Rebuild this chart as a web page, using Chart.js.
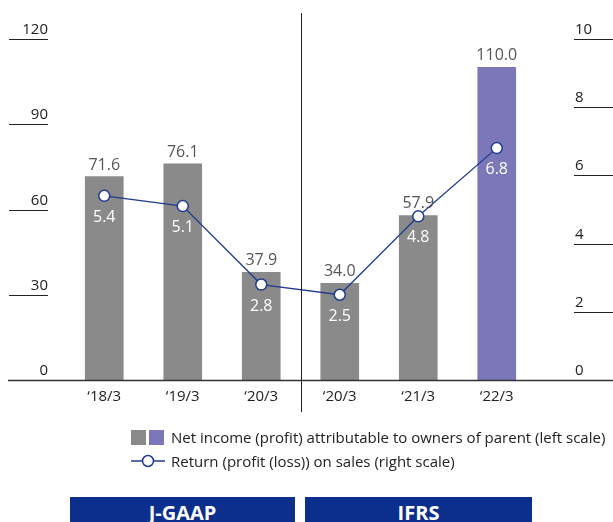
<!DOCTYPE html>
<html>
<head>
<meta charset="utf-8">
<script src="https://cdn.jsdelivr.net/npm/chart.js@4"></script>
<style>
  body { margin: 0; background: #fff; font-family: "Open Sans", "Noto Sans", sans-serif; }
  #wrap { position: relative; width: 613px; height: 522px; overflow: hidden; }
  canvas { position: absolute; left: 0; top: 0; }
  .leg { position: absolute; left: 131px; font-size: 15px; color: #222; white-space: nowrap; display: flex; align-items: center; }
  .sq { display: inline-block; width: 15px; height: 15px; margin-right: 3px; }
  .box { position: absolute; top: 497px; height: 30px; background: #0c2e8c; color: #fff; font-weight: bold; font-size: 20px; text-align: center; line-height: 32px; }
</style>
</head>
<body>
<div id="wrap">
  <canvas id="chart" width="613" height="522"></canvas>
  <div class="leg" style="top:427px">
    <span class="sq" style="background:#8a8a8a"></span><span class="sq" style="background:#7b77b8;margin-right:7px"></span>
    Net income (profit) attributable to owners of parent (left scale)
  </div>
  <div class="leg" style="top:451px">
    <svg width="36" height="16" style="margin-right:4px"><line x1="0" y1="8" x2="34" y2="8" stroke="#1f3a8f" stroke-width="1.3"/><circle cx="17" cy="8" r="5.5" fill="#fff" stroke="#1f3a8f" stroke-width="1.5"/></svg>
    Return (profit (loss)) on sales (right scale)
  </div>
  <div class="box" style="left:70px;width:225px">J-GAAP</div>
  <div class="box" style="left:305px;width:227px">IFRS</div>
</div>
<script>
  const categories = ['\u201818/3', '\u201819/3', '\u201820/3', '\u201820/3', '\u201821/3', '\u201822/3'];
  const netIncome = [71.6, 76.1, 37.9, 34.0, 57.9, 110.0];
  const returnOnSales = [5.4, 5.1, 2.8, 2.5, 4.8, 6.8];
  const leftTicks = [0, 30, 60, 90, 120];
  const rightTicks = [0, 2, 4, 6, 8, 10];
  const barColors = ['#8a8a8a', '#8a8a8a', '#8a8a8a', '#8a8a8a', '#8a8a8a', '#7b77b8'];

  const FONT = '"Open Sans", "Noto Sans", sans-serif';

  const extras = {
    id: 'extras',
    afterDraw(chart) {
      const ctx = chart.ctx;
      const yL = chart.scales.y;
      const yR = chart.scales.y2;
      const x = chart.scales.x;
      ctx.save();

      // tick labels sitting on short underlines
      ctx.font = '15px ' + FONT;
      ctx.fillStyle = '#222';
      ctx.strokeStyle = '#222';
      ctx.lineWidth = 1.2;
      ctx.textBaseline = 'alphabetic';
      leftTicks.forEach(v => {
        const py = Math.round(yL.getPixelForValue(v)) + 0.5;
        if (v !== 0) {
          ctx.beginPath(); ctx.moveTo(9, py); ctx.lineTo(48, py); ctx.stroke();
        }
        ctx.textAlign = 'right';
        ctx.fillText(String(v), 48, py - 6);
      });
      rightTicks.forEach(v => {
        const py = Math.round(yR.getPixelForValue(v)) + 0.5;
        if (v !== 0) {
          ctx.beginPath(); ctx.moveTo(574, py); ctx.lineTo(613, py); ctx.stroke();
        }
        ctx.textAlign = 'left';
        ctx.fillText(String(v), 575, py - 6);
      });

      // baseline
      const by = Math.round(yL.getPixelForValue(0)) + 0.5;
      ctx.lineWidth = 1.4;
      ctx.strokeStyle = '#333';
      ctx.beginPath(); ctx.moveTo(8, by); ctx.lineTo(613, by); ctx.stroke();

      // J-GAAP / IFRS divider
      const dx = Math.round((x.getPixelForValue(2) + x.getPixelForValue(3)) / 2) + 0.5;
      ctx.lineWidth = 1;
      ctx.strokeStyle = '#222';
      ctx.beginPath(); ctx.moveTo(dx, 13); ctx.lineTo(dx, 412); ctx.stroke();

      // bar value labels
      ctx.font = '16px ' + FONT;
      ctx.textAlign = 'center';
      ctx.fillStyle = '#555';
      chart.getDatasetMeta(1).data.forEach((bar, i) => {
        ctx.fillText(netIncome[i].toFixed(1), bar.x, bar.y - 7);
      });
      // point labels
      ctx.fillStyle = '#fff';
      chart.getDatasetMeta(0).data.forEach((pt, i) => {
        ctx.fillText(returnOnSales[i].toFixed(1), pt.x, pt.y + 26);
      });
      ctx.restore();
    }
  };

  new Chart(document.getElementById('chart'), {
    data: {
      labels: categories,
      datasets: [{
        type: 'line',
        data: returnOnSales,
        yAxisID: 'y2',
        borderColor: '#1f3a8f',
        borderWidth: 1.3,
        pointRadius: 5.5,
        pointBorderWidth: 1.5,
        pointBackgroundColor: '#fff',
        pointBorderColor: '#1f3a8f',
        order: 0
      }, {
        type: 'bar',
        data: netIncome,
        yAxisID: 'y',
        backgroundColor: barColors,
        barThickness: 38,
        order: 1
      }]
    },
    options: {
      responsive: false,
      animation: false,
      layout: { padding: { left: 65, right: 77, top: 39, bottom: 112 } },
      plugins: { legend: { display: false }, tooltip: { enabled: false } },
      scales: {
        x: {
          grid: { display: false },
          border: { display: false },
          ticks: { color: '#222', font: { family: FONT, size: 15 }, padding: 0 },
          afterFit: s => { s.height = 30; }
        },
        y: { display: false, min: 0, max: 120 },
        y2: { display: false, position: 'right', min: 0, max: 10 }
      }
    },
    plugins: [extras]
  });
</script>
</body>
</html>
